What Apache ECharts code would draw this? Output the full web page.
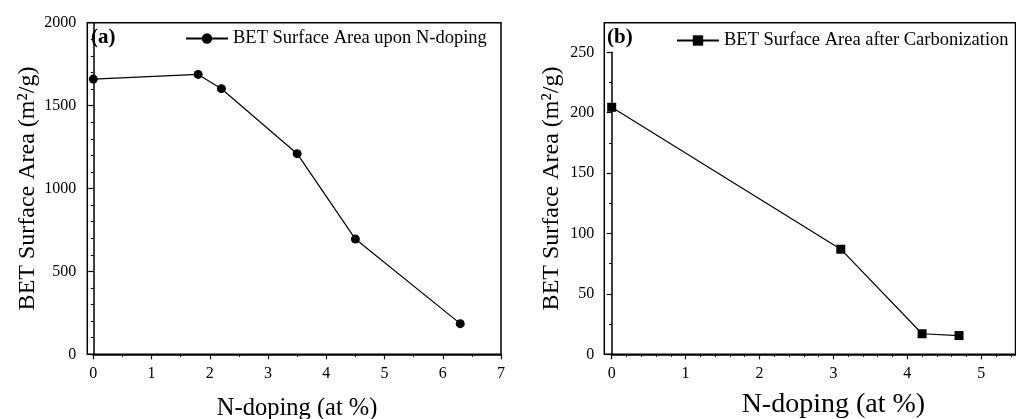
<!DOCTYPE html>
<html>
<head>
<meta charset="utf-8">
<script src="https://cdn.jsdelivr.net/npm/echarts@6/dist/echarts.min.js"></script>
<style>
  html, body { margin: 0; padding: 0; background: #fff; }
  #chart { width: 1016px; height: 419px; }
</style>
</head>
<body>
<div id="chart"></div>
<script>
// Panel (a): BET surface area vs. nitrogen content after N-doping
const dopingA = [0, 1.8, 2.2, 3.5, 4.5, 6.3];
const areaA = [1660, 1688, 1602, 1210, 695, 185];
// Panel (b): BET surface area vs. nitrogen content after carbonization
const dopingB = [0, 3.1, 4.2, 4.7];
const areaB = [204.5, 87, 17, 15.5];

const nameA = 'BET Surface Area upon N-doping';
const nameB = 'BET Surface Area after Carbonization';
const yTitle = 'BET Surface Area (m²/g)';
const xTitle = 'N-doping (at %)';
const ticksYA = { min: 0, max: 2000, interval: 500 };
const ticksXA = { min: 0, max: 7, interval: 1 };
const ticksYB = { min: 0, max: 250, interval: 50 };
const ticksXB = { min: 0, max: 6, interval: 1 };

const FONT = 'Liberation Serif';
const INK = '#000';

function zip(xs, ys) { return xs.map((x, i) => [x, ys[i]]); }

const lineAxis = { show: true, lineStyle: { color: INK, width: 1.5 } };
const tick = { show: true, length: 5, inside: false, lineStyle: { color: INK, width: 1.2 } };

function tickLabel(margin) {
  return { margin: margin, color: INK, fontFamily: FONT, fontSize: 16, formatter: v => String(v) };
}
function valueAxis(extra) {
  return Object.assign({
    type: 'value',
    axisLine: lineAxis,
    axisTick: tick,
    splitLine: { show: false },
    axisLabel: tickLabel(11),
    nameLocation: 'middle',
    nameTextStyle: { color: INK, fontFamily: FONT, fontSize: 24 }
  }, extra);
}
// axis of a frame grid: nothing drawn except, optionally, its title
function frameAxis(gridIndex, extra) {
  return Object.assign({
    type: 'value', gridIndex: gridIndex, min: 0, max: 1,
    axisLine: { show: false }, axisTick: { show: false },
    axisLabel: { show: false }, splitLine: { show: false },
    nameLocation: 'middle',
    nameTextStyle: { color: INK, fontFamily: FONT, fontSize: 24 }
  }, extra || {});
}
function minor(n) {
  return { show: true, splitNumber: n, length: 2.5, lineStyle: { color: INK, width: 1.1 } };
}

const chart = echarts.init(document.getElementById('chart'), null, { renderer: 'canvas' });

chart.setOption({
  animation: false,
  backgroundColor: '#fff',
  title: [
    { text: '(a)', left: 91, top: 27, padding: 0,
      textStyle: { fontFamily: FONT, fontWeight: 'bold', fontSize: 21, color: INK } },
    { text: '(b)', left: 607, top: 27, padding: 0,
      textStyle: { fontFamily: FONT, fontWeight: 'bold', fontSize: 21, color: INK } }
  ],
  legend: [
    { data: [nameA], left: 185, top: 29, itemWidth: 42, itemHeight: 13, itemGap: 0,
      selectedMode: false, padding: 0,
      textStyle: { fontFamily: FONT, fontSize: 18.5, color: INK } },
    { data: [nameB], left: 676, top: 31, itemWidth: 42, itemHeight: 13, itemGap: 0,
      selectedMode: false, padding: 0,
      textStyle: { fontFamily: FONT, fontSize: 18.5, color: INK } }
  ],
  grid: [
    // frames
    { left: 87.3, top: 22.7, width: 413.7, height: 331.6, show: true, outerBoundsMode: 'none',
      borderColor: INK, borderWidth: 1.5, backgroundColor: 'transparent' },
    { left: 604.3, top: 22.7, width: 411.2, height: 331.6, show: true, outerBoundsMode: 'none',
      borderColor: INK, borderWidth: 1.5, backgroundColor: 'transparent' },
    // plotting areas
    { left: 93.3, top: 22.7, width: 407.7, height: 331.6, outerBoundsMode: 'none' },
    { left: 611.7, top: 52.3, width: 443.4, height: 302, outerBoundsMode: 'none' }
  ],
  xAxis: [
    frameAxis(0),
    frameAxis(1),
    valueAxis(Object.assign({ gridIndex: 2, minorTick: minor(2),
      name: xTitle, nameGap: 42,
      nameTextStyle: { color: INK, fontFamily: FONT, fontSize: 24.5 } }, ticksXA)),
    valueAxis(Object.assign({ gridIndex: 3, minorTick: minor(5),
      name: xTitle, nameGap: 36,
      nameTextStyle: { color: INK, fontFamily: FONT, fontSize: 28 } }, ticksXB))
  ],
  yAxis: [
    frameAxis(0, { name: yTitle, nameGap: 48 }),
    frameAxis(1, { name: yTitle, nameGap: 41 }),
    valueAxis(Object.assign({ gridIndex: 2, offset: 6, minorTick: minor(5),
      axisLabel: tickLabel(11) }, ticksYA)),
    valueAxis(Object.assign({ gridIndex: 3, offset: 7.4, minorTick: minor(2),
      axisLabel: tickLabel(10) }, ticksYB))
  ],
  series: [
    { name: nameA, type: 'line', xAxisIndex: 2, yAxisIndex: 2, data: zip(dopingA, areaA),
      symbol: 'circle', symbolSize: 9, clip: false,
      lineStyle: { color: INK, width: 1.2 }, itemStyle: { color: INK } },
    { name: nameB, type: 'line', xAxisIndex: 3, yAxisIndex: 3, data: zip(dopingB, areaB),
      symbol: 'rect', symbolSize: 9, clip: false,
      lineStyle: { color: INK, width: 1.2 }, itemStyle: { color: INK } }
  ]
});
</script>
</body>
</html>
